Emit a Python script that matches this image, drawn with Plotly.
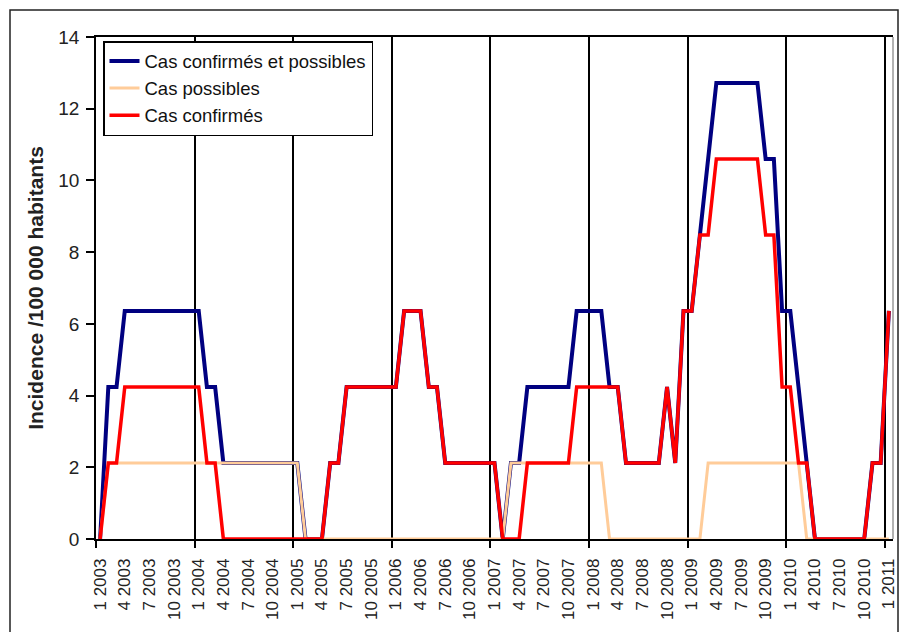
import plotly.graph_objects as go

# Monthly categories, Jan 2003 .. Jan 2011
months = [f"{m} {y}" for y in range(2003, 2011) for m in range(1, 13)] + ["1 2011"]

cas_confirmes_possibles = [
    0, 4.24, 4.24, 6.36, 6.36, 6.36, 6.36, 6.36, 6.36, 6.36, 6.36, 6.36,          # 2003
    6.36, 4.24, 4.24, 2.12, 2.12, 2.12, 2.12, 2.12, 2.12, 2.12, 2.12, 2.12,       # 2004
    2.12, 0, 0, 0, 2.12, 2.12, 4.24, 4.24, 4.24, 4.24, 4.24, 4.24,                # 2005
    4.24, 6.36, 6.36, 6.36, 4.24, 4.24, 2.12, 2.12, 2.12, 2.12, 2.12, 2.12,       # 2006
    2.12, 0, 2.12, 2.12, 4.24, 4.24, 4.24, 4.24, 4.24, 4.24, 6.36, 6.36,          # 2007
    6.36, 6.36, 4.24, 4.24, 2.12, 2.12, 2.12, 2.12, 2.12, 4.24, 2.12, 6.36,       # 2008
    6.36, 8.48, 10.6, 12.72, 12.72, 12.72, 12.72, 12.72, 12.72, 10.6, 10.6, 6.36, # 2009
    6.36, 4.24, 2.12, 0, 0, 0, 0, 0, 0, 0, 2.12, 2.12,                            # 2010
    6.36,                                                                         # 2011
]

cas_possibles = [
    0, 2.12, 2.12, 2.12, 2.12, 2.12, 2.12, 2.12, 2.12, 2.12, 2.12, 2.12,
    2.12, 2.12, 2.12, 2.12, 2.12, 2.12, 2.12, 2.12, 2.12, 2.12, 2.12, 2.12,
    2.12, 0, 0, 0, 0, 0, 0, 0, 0, 0, 0, 0,
    0, 0, 0, 0, 0, 0, 0, 0, 0, 0, 0, 0,
    0, 0, 2.12, 2.12, 2.12, 2.12, 2.12, 2.12, 2.12, 2.12, 2.12, 2.12,
    2.12, 2.12, 0, 0, 0, 0, 0, 0, 0, 0, 0, 0,
    0, 0, 2.12, 2.12, 2.12, 2.12, 2.12, 2.12, 2.12, 2.12, 2.12, 2.12,
    2.12, 2.12, 0, 0, 0, 0, 0, 0, 0, 0, 0, 0,
    0,
]

cas_confirmes = [
    0, 2.12, 2.12, 4.24, 4.24, 4.24, 4.24, 4.24, 4.24, 4.24, 4.24, 4.24,
    4.24, 2.12, 2.12, 0, 0, 0, 0, 0, 0, 0, 0, 0,
    0, 0, 0, 0, 2.12, 2.12, 4.24, 4.24, 4.24, 4.24, 4.24, 4.24,
    4.24, 6.36, 6.36, 6.36, 4.24, 4.24, 2.12, 2.12, 2.12, 2.12, 2.12, 2.12,
    2.12, 0, 0, 0, 2.12, 2.12, 2.12, 2.12, 2.12, 2.12, 4.24, 4.24,
    4.24, 4.24, 4.24, 4.24, 2.12, 2.12, 2.12, 2.12, 2.12, 4.24, 2.12, 6.36,
    6.36, 8.48, 8.48, 10.6, 10.6, 10.6, 10.6, 10.6, 10.6, 8.48, 8.48, 4.24,
    4.24, 2.12, 2.12, 0, 0, 0, 0, 0, 0, 0, 2.12, 2.12,
    6.36,
]

y_ticks = [0, 2, 4, 6, 8, 10, 12, 14]

# category centres on a numeric axis (each category is one unit wide)
xpos = [i + 0.5 for i in range(len(months))]

FONT = "Arial, Liberation Sans, sans-serif"

fig = go.Figure()
fig.add_trace(go.Scatter(
    x=xpos, y=cas_confirmes_possibles, name="Cas confirmés et possibles",
    mode="lines", line=dict(color="#000080", width=4),
))
fig.add_trace(go.Scatter(
    x=xpos, y=cas_possibles, name="Cas possibles",
    mode="lines", line=dict(color="#FFCC99", width=3),
))
fig.add_trace(go.Scatter(
    x=xpos, y=cas_confirmes, name="Cas confirmés",
    mode="lines", line=dict(color="#FF0000", width=3.5),
))

L, R, T, B = 96, 7, 37, 93
W, H = 900, 632
pw, ph = W - L - R, H - T - B


def px(xp):
    return (xp - L) / pw


def py(yp):
    return (H - B - yp) / ph


fig.update_layout(
    width=W, height=H,
    margin=dict(l=L, r=R, t=T, b=B, pad=0, autoexpand=False),
    paper_bgcolor="white", plot_bgcolor="white",
    font=dict(family=FONT, color="#111111", size=16),
    showlegend=True,
    legend=dict(
        x=px(103), y=py(41), xanchor="left", yanchor="top",
        bgcolor="white", bordercolor="black", borderwidth=1.5,
        font=dict(family=FONT, size=18.5, color="#111111"),
        itemwidth=30, tracegroupgap=0,
    ),
    shapes=[
        # outer chart frame
        dict(type="rect", xref="paper", yref="paper",
             x0=px(10), x1=px(898), y0=py(660), y1=py(10),
             line=dict(color="#222222", width=1.5), layer="below"),
        # right border of plot area (grey)
        dict(type="line", xref="paper", yref="paper",
             x0=1, x1=1, y0=0, y1=1,
             line=dict(color="#999999", width=1.5)),
    ],
)

fig.update_xaxes(
    range=[0, len(months)],
    tickmode="array",
    tickvals=[xpos[i] for i in range(0, len(months), 3)],
    ticktext=[months[i] for i in range(0, len(months), 3)],
    tickangle=-90,
    ticks="",
    showgrid=False,
    zeroline=False,
    showline=True, linecolor="black", linewidth=1.5, mirror=True,
    layer="below traces",
    tickfont=dict(family=FONT, size=17, color="#222222"),
    ticklabelstandoff=11,
    automargin=False,
    minor=dict(tickmode="linear", tick0=0, dtick=12, showgrid=True,
               gridcolor="black", gridwidth=1.5, ticks="outside",
               ticklen=7, tickcolor="black", tickwidth=1.5),
)

fig.update_yaxes(
    range=[0, 14],
    tickmode="array", tickvals=y_ticks, ticktext=[str(v) for v in y_ticks],
    ticks="outside", ticklen=8, tickwidth=1.5, tickcolor="black",
    showgrid=False, zeroline=False,
    showline=True, linecolor="black", linewidth=1.5,
    layer="below traces",
    tickfont=dict(family=FONT, size=19, color="#222222"),
    ticklabelstandoff=3,
    automargin=False,
    title=dict(text="<b>Incidence /100 000 habitants</b>",
               font=dict(family=FONT, size=21, color="#222222"),
               standoff=9),
)

fig.write_html("out.html", config={"displayModeBar": False},
               post_script="document.body.style.margin='0';")
